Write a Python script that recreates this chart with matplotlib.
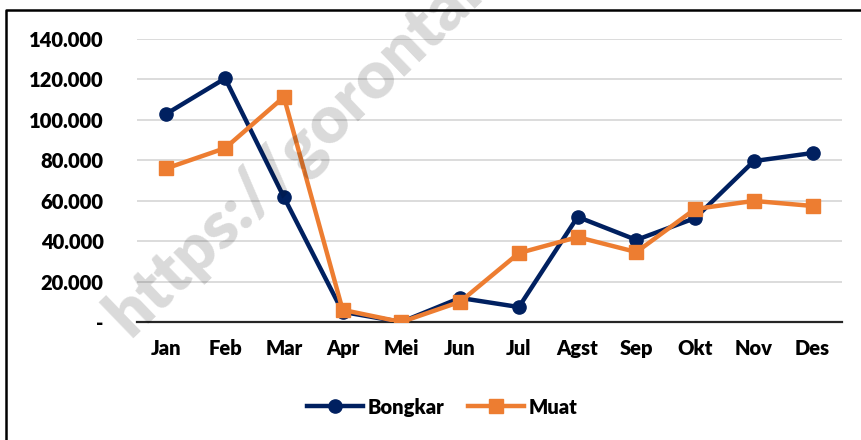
import matplotlib
matplotlib.use('Agg')
import matplotlib.pyplot as plt
from matplotlib.lines import Line2D
from matplotlib.ticker import FuncFormatter

months = ['Jan', 'Feb', 'Mar', 'Apr', 'Mei', 'Jun', 'Jul', 'Agst', 'Sep', 'Okt', 'Nov', 'Des']
bongkar = [103000, 120500, 61800, 5000, 0, 11900, 7400, 52000, 40600, 51400, 79600, 83600]
muat = [76000, 86000, 111300, 6000, 0, 10000, 34100, 42000, 34600, 55900, 59900, 57400]
y_ticks = [0, 20000, 40000, 60000, 80000, 100000, 120000, 140000]

plt.rcParams['font.family'] = ['Lato', 'DejaVu Sans']
plt.rcParams['font.weight'] = 800

W, H = 862, 440
fig = plt.figure(figsize=(W / 100, H / 100), dpi=100)
ax = fig.add_axes([137 / W, 1 - 322 / H, (842 - 137) / W, (322 - 39) / H])

x = range(len(months))
ax.plot(x, bongkar, '-o', color='#002060', lw=3.2, ms=9.5, label='Bongkar', zorder=3)
ax.plot(x, muat, '-s', color='#ED7D31', lw=3.2, ms=9.5, label='Muat', zorder=4)

ax.set_xlim(-0.5, 11.5)
ax.set_ylim(0, 140000)
ax.set_yticks(y_ticks)
ax.yaxis.set_major_formatter(FuncFormatter(lambda v, p: '-' if v == 0 else f'{int(v):,}'.replace(',', '.')))
ax.set_xticks(list(x))
ax.set_xticklabels(months)
ax.tick_params(axis='both', length=0, labelsize=14.5, colors='black')
ax.tick_params(axis='y', pad=24)
ax.tick_params(axis='x', pad=12)
for lab in ax.get_xticklabels() + ax.get_yticklabels():
    lab.set_fontweight(800)

ax.grid(axis='y', color='#d9d9d9', lw=1.3)
ax.set_axisbelow(True)
for s in ['top', 'right', 'left']:
    ax.spines[s].set_visible(False)
ax.spines['bottom'].set_color('#262626')
ax.spines['bottom'].set_linewidth(1.6)

leg = fig.legend(loc='center', bbox_to_anchor=(442 / W, 1 - 407 / H), ncol=2, frameon=False,
                 handlelength=2.8, columnspacing=1.2, handletextpad=0.2,
                 prop={'weight': 800, 'size': 14.5})

# watermark
fig.text(130 / W, 1 - 338 / H, 'https://gorontalo.bps.go.id', rotation=44, rotation_mode='anchor',
         ha='left', va='baseline', fontsize=48, fontweight=800, color='#000000', alpha=0.15,
         zorder=10)

# frame (left and top edges only visible)
fig.add_artist(Line2D([6 / W, 6 / W, 1.0], [0, 1 - 10 / H, 1 - 10 / H], color='black', lw=1.8))

fig.savefig('out.png', dpi=100)
